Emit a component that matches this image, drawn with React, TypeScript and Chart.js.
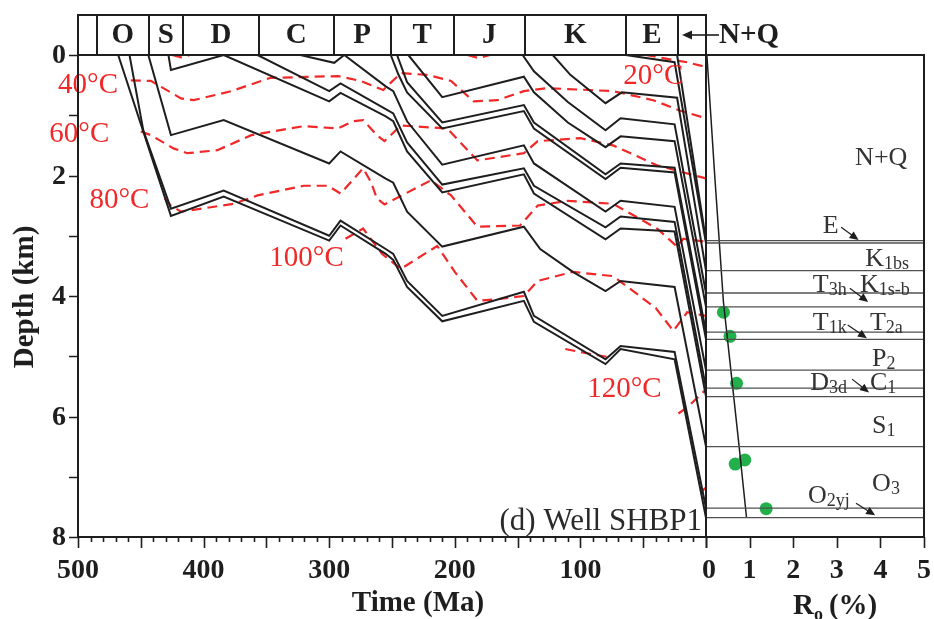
import React, { useEffect, useRef } from 'react';
import { Chart, registerables } from 'chart.js';

Chart.register(...registerables);

const W = 934;
const H = 619;
const SERIF = '"Liberation Serif", "Times New Roman", Times, serif';
const INK = '#1e1e1e';
const RED = '#f02828';
const GREEN = '#22b04b';
const RULE = '#505050';

// Geological periods along the top of the burial plot (boundaries in Ma)
const periodLabels = ['', 'O', 'S', 'D', 'C', 'P', 'T', 'J', 'K', 'E', ''];
const periodEdges = [500, 485, 443.6, 416.5, 356, 296.5, 251, 201, 144, 64, 22, 0];

const timeTicks = [500, 400, 300, 200, 100];
const depthTicks = [0, 2, 4, 6, 8];
const roTicks = [0, 1, 2, 3, 4, 5];

type Row = [number, number] | null;

// Burial paths of the horizons: [age (Ma), depth (km)]
const hzO2yj: Row[] = [[468, 0], [426, 2.67], [384, 2.35], [300, 3.08], [291, 2.83], [255, 3.3], [249, 3.4], [238, 3.85], [210, 4.42], [145, 4.08], [137, 4.43], [80, 5.13], [68, 4.88], [25, 5.05], [0, 7.68]];
const hzO3: Row[] = [[459, 0], [448, 1.25], [426, 2.55], [384, 2.25], [300, 3.0], [291, 2.75], [255, 3.22], [249, 3.3], [238, 3.75], [210, 4.33], [145, 3.93], [137, 4.33], [80, 5.05], [68, 4.83], [25, 4.93], [0, 7.52]];
const hzS1: Row[] = [[444, 0], [426, 1.33], [384, 1.08], [300, 1.8], [291, 1.6], [255, 2.05], [249, 2.12], [238, 2.6], [210, 3.18], [145, 2.85], [132, 3.22], [106, 3.6], [80, 3.92], [68, 3.75], [25, 3.85], [0, 6.5]];
const hzD3d: Row[] = [[428, 0], [426, 0.25], [384, 0], [300, 0.77], [291, 0.63], [255, 1.02], [249, 1.1], [238, 1.6], [210, 2.28], [145, 1.98], [137, 2.3], [80, 3.06], [68, 2.88], [25, 2.93], [0, 5.67]];
const hzC1: Row[] = [[357, 0], [300, 0.6], [291, 0.47], [255, 0.9], [249, 0.97], [238, 1.45], [210, 2.15], [145, 1.88], [137, 2.17], [80, 2.86], [68, 2.68], [25, 2.77], [0, 5.53]];
const hzP2: Row[] = [[323, 0], [296, 0.13], [288, 0], [255, 0.52], [249, 0.6], [238, 1.1], [210, 1.82], [145, 1.5], [137, 1.8], [80, 2.6], [68, 2.42], [25, 2.52], [0, 5.23]];
const hzT1k: Row[] = [[251, 0], [245, 0.32], [238, 0.62], [210, 1.22], [145, 0.93], [137, 1.22], [80, 2.06], [68, 1.87], [25, 1.95], [0, 4.72]];
const hzT2a: Row[] = [[246, 0], [238, 0.45], [210, 1.12], [145, 0.83], [137, 1.12], [80, 1.98], [68, 1.8], [25, 1.87], [0, 4.6]];
const hzT3h: Row[] = [[237, 0], [210, 0.7], [145, 0.36], [137, 0.62], [110, 1.12], [80, 1.53], [68, 1.35], [25, 1.43], [0, 4.18]];
const hzK1s: Row[] = [[146, 0], [137, 0.27], [110, 0.78], [80, 1.25], [68, 1.05], [25, 1.15], [0, 3.95]];
const hzK1bs: Row[] = [[122, 0], [108, 0.33], [80, 0.8], [67, 0.62], [23, 0.71], [0, 3.58]];
const hzEbase: Row[] = [[64, 0], [25, 0.12], [0, 3.12]];
const hzNQbase: Row[] = [[23, 0], [0, 3.08]];

// Isotherms: [age (Ma), depth (km)]; null leaves a gap in the dashed line
const iso20: Row[] = [[425, 0], [418, 0.04], [411, 0], null, [190, 0], [181, 0.05], [172, 0], null, [48, 0], [32, 0.06], [15, 0.12], [0, 0.2]];
const iso40: Row[] = [[458, 0.42], [442, 0.43], [418, 0.72], [408, 0.75], [378, 0.6], [347, 0.38], [293, 0.35], [275, 0.43], [257, 0.58], [243, 0.3], [222, 0.33], [203, 0.43], [185, 0.77], [166, 0.75], [145, 0.6], [126, 0.55], [74, 0.6], [42, 0.75], [21, 0.92], [0, 1.05]];
const iso60: Row[] = [[450, 1.27], [442, 1.33], [424, 1.55], [413, 1.63], [389, 1.58], [362, 1.33], [320, 1.18], [293, 1.22], [281, 1.1], [273, 1.08], [262, 1.33], [256, 1.43], [243, 1.17], [206, 1.22], [182, 1.75], [145, 1.63], [134, 1.43], [100, 1.38], [74, 1.5], [39, 1.83], [0, 2.05]];
const iso80: Row[] = [[431, 2.38], [426, 2.5], [418, 2.6], [376, 2.47], [357, 2.33], [320, 2.17], [301, 2.17], [291, 2.3], [273, 1.88], [267, 2.1], [262, 2.38], [256, 2.48], [219, 2.08], [203, 2.33], [182, 2.85], [148, 2.83], [134, 2.5], [110, 2.42], [74, 2.47], [39, 2.88], [23, 3.18], [18, 3.05], [0, 3.1]];
const iso100: Row[] = [[287, 3.05], [273, 2.88], [258, 3.3], [243, 3.55], [214, 3.17], [200, 3.6], [182, 4.08], [165, 4.05], [145, 4.0], [134, 3.75], [106, 3.6], [74, 3.67], [40, 4.2], [26, 4.58], [15, 4.27], [0, 4.33]];
const iso120: Row[] = [[112, 4.88], [95, 4.95], [76, 5.02], null, [22, 5.95], [15, 5.85], [0, 5.55]];
const iso140: Row[] = [[4, 7.25], [0, 7.18]];
const isoTemps = [20, 40, 60, 80, 100, 120];

// Vitrinite reflectance: [Ro (%), depth (km)]
const roModel: Row[] = [[0.02, 0], [0.2, 2], [0.4, 4.1], [0.57, 5.23], [0.76, 6.5], [0.93, 7.68]];
const roMeasured: Row[] = [[0.4, 4.27], [0.55, 4.67], [0.7, 5.45], [0.67, 6.79], [0.89, 6.72], [1.38, 7.53]];
// Present-day formation boundaries (km)
const formationTops = [3.08, 3.12, 3.58, 3.95, 4.18, 4.6, 4.72, 5.23, 5.53, 5.67, 6.5, 7.52, 7.68];

const pts = (rows: Row[]) => rows.map((r) => (r ? { x: r[0], y: r[1] } : { x: null as any, y: null as any }));

function label(ctx: CanvasRenderingContext2D, s: string, x: number, y: number, font: string, color: string,
  align: CanvasTextAlign = 'center', baseline: CanvasTextBaseline = 'middle') {
  ctx.font = font;
  ctx.fillStyle = color;
  ctx.textAlign = align;
  ctx.textBaseline = baseline;
  ctx.fillText(s, x, y);
}

// Text with a smaller, slightly lowered suffix (K + 1bs, T + 3h ...)
function richText(ctx: CanvasRenderingContext2D, parts: [string, string][], x: number, y: number, size: number, color: string) {
  let cx = x;
  ctx.fillStyle = color;
  ctx.textAlign = 'left';
  ctx.textBaseline = 'alphabetic';
  for (const [main, sub] of parts) {
    ctx.font = `${size}px ${SERIF}`;
    ctx.fillText(main, cx, y);
    cx += ctx.measureText(main).width;
    if (sub) {
      ctx.font = `${Math.round(size * 0.7)}px ${SERIF}`;
      ctx.fillText(sub, cx, y + 3);
      cx += ctx.measureText(sub).width;
    }
  }
  return cx;
}

function arrow(ctx: CanvasRenderingContext2D, x1: number, y1: number, x2: number, y2: number, head = 9, width = 1.2) {
  const a = Math.atan2(y2 - y1, x2 - x1);
  const c = Math.cos(a);
  const s = Math.sin(a);
  ctx.strokeStyle = INK;
  ctx.fillStyle = INK;
  ctx.lineWidth = width;
  ctx.beginPath();
  ctx.moveTo(x1, y1);
  ctx.lineTo(x2 - c * head * 0.8, y2 - s * head * 0.8);
  ctx.stroke();
  ctx.beginPath();
  ctx.moveTo(x2, y2);
  ctx.lineTo(x2 - head * c + head * 0.45 * s, y2 - head * s - head * 0.45 * c);
  ctx.lineTo(x2 - head * c - head * 0.45 * s, y2 - head * s + head * 0.45 * c);
  ctx.closePath();
  ctx.fill();
}

const burialDecor = {
  id: 'burialDecor',
  afterDatasetsDraw(chart: any) {
    const { ctx, chartArea: a, scales } = chart;
    const xs = scales.x;
    const ys = scales.y;
    ctx.save();

    // isotherm labels
    const spots: [number, number][] = [[42, 0.36], [492, 0.5], [499, 1.31], [467, 2.42], [318, 3.37], [65, 5.55]];
    isoTemps.forEach((t, i) => {
      const [ma, d] = spots[i];
      label(ctx, `${t}°C`, xs.getPixelForValue(ma), ys.getPixelForValue(d), `29px ${SERIF}`, RED);
    });

    // frame
    ctx.strokeStyle = INK;
    ctx.lineWidth = 2;
    ctx.strokeRect(a.left, a.top, a.right - a.left, a.bottom - a.top);

    // period strip
    const sTop = a.top - 40;
    const x0 = xs.getPixelForValue(periodEdges[0]);
    const x1 = xs.getPixelForValue(periodEdges[periodEdges.length - 1]);
    ctx.strokeRect(x0, sTop, x1 - x0, a.top - sTop);
    ctx.beginPath();
    for (let i = 1; i < periodEdges.length - 1; i++) {
      const px = Math.round(xs.getPixelForValue(periodEdges[i]));
      ctx.moveTo(px, sTop);
      ctx.lineTo(px, a.top);
    }
    ctx.stroke();
    periodLabels.forEach((p, i) => {
      if (!p) return;
      const mid = (xs.getPixelForValue(periodEdges[i]) + xs.getPixelForValue(periodEdges[i + 1])) / 2;
      label(ctx, p, mid, sTop + 21, `bold 29px ${SERIF}`, INK);
    });
    const nqRight = xs.getPixelForValue(0);
    arrow(ctx, nqRight + 13, sTop + 20, nqRight - 24, sTop + 20, 10, 1.6);
    label(ctx, 'N+Q', nqRight + 13, sTop + 21, `bold 29px ${SERIF}`, INK, 'left');

    // time ticks: long every 50 Ma, short every 10 Ma
    ctx.lineWidth = 1.6;
    ctx.beginPath();
    for (let t = 0; t <= 500; t += 10) {
      const px = Math.round(xs.getPixelForValue(t)) + 0.5;
      const len = t % 50 === 0 ? 11 : 5;
      ctx.moveTo(px, a.bottom);
      ctx.lineTo(px, a.bottom + len);
    }
    for (let d = 0; d <= 8; d += 1) {
      const py = Math.round(ys.getPixelForValue(d)) + 0.5;
      ctx.moveTo(a.left, py);
      ctx.lineTo(a.left - 9, py);
    }
    ctx.stroke();

    timeTicks.forEach((t) => label(ctx, String(t), xs.getPixelForValue(t), a.bottom + 34, `bold 28px ${SERIF}`, INK));
    depthTicks.forEach((d) => label(ctx, String(d), a.left - 12, ys.getPixelForValue(d) + 1, `bold 28px ${SERIF}`, INK, 'right'));

    label(ctx, 'Time (Ma)', (a.left + a.right) / 2 + 26, a.bottom + 67, `bold 29px ${SERIF}`, INK);
    ctx.save();
    ctx.translate(26, (a.top + a.bottom) / 2 + 1);
    ctx.rotate(-Math.PI / 2);
    label(ctx, 'Depth (km)', 0, 0, `bold 29px ${SERIF}`, INK);
    ctx.restore();

    label(ctx, '(d) Well SHBP1', a.right - 4, a.bottom - 7, `31px ${SERIF}`, '#2a2a2a', 'right', 'alphabetic');
    ctx.restore();
  },
};

const roDecor = {
  id: 'roDecor',
  afterDatasetsDraw(chart: any) {
    const { ctx, chartArea: a, scales } = chart;
    const xs = scales.x;
    const ys = scales.y;
    const P = (ro: number, d: number): [number, number] => [xs.getPixelForValue(ro), ys.getPixelForValue(d)];
    ctx.save();

    ctx.strokeStyle = INK;
    ctx.lineWidth = 2;
    ctx.strokeRect(a.left, a.top, a.right - a.left, a.bottom - a.top);

    ctx.lineWidth = 1.6;
    ctx.beginPath();
    roTicks.forEach((r) => {
      const px = Math.round(xs.getPixelForValue(r)) + 0.5;
      ctx.moveTo(px, a.bottom);
      ctx.lineTo(px, a.bottom + 11);
    });
    ctx.stroke();
    roTicks.forEach((r) => label(ctx, String(r), xs.getPixelForValue(r) + (r === 0 ? 3 : 0), a.bottom + 34, `bold 28px ${SERIF}`, INK));

    // axis title R_o (%)
    ctx.textBaseline = 'alphabetic';
    const tx = (a.left + a.right) / 2 - 22;
    const ty = a.bottom + 77;
    ctx.font = `bold 29px ${SERIF}`;
    ctx.fillStyle = INK;
    ctx.textAlign = 'left';
    ctx.fillText('R', tx, ty);
    let cx = tx + ctx.measureText('R').width;
    ctx.font = `bold 18px ${SERIF}`;
    ctx.fillText('o', cx, ty + 6);
    cx += ctx.measureText('o').width + 6;
    ctx.font = `bold 29px ${SERIF}`;
    ctx.fillText('(%)', cx, ty);

    // formation names
    const fs = 26;
    const col = '#333333';
    let p = P(3.42, 1.83);
    richText(ctx, [['N+Q', '']], p[0], p[1], fs, col);
    p = P(2.68, 2.95);
    richText(ctx, [['E', '']], p[0], p[1], fs, col);
    arrow(ctx, ...P(3.1, 2.86), ...P(3.5, 3.07));
    p = P(3.65, 3.5);
    richText(ctx, [['K', '1bs']], p[0], p[1], fs, col);
    p = P(2.45, 3.93);
    richText(ctx, [['T', '3h']], p[0], p[1], fs, col);
    arrow(ctx, ...P(3.3, 3.87), ...P(3.72, 4.1));
    p = P(3.53, 3.93);
    richText(ctx, [['K', '1s-b']], p[0], p[1], fs, col);
    p = P(2.45, 4.56);
    richText(ctx, [['T', '1k']], p[0], p[1], fs, col);
    arrow(ctx, ...P(3.25, 4.48), ...P(3.69, 4.7));
    p = P(3.76, 4.56);
    richText(ctx, [['T', '2a']], p[0], p[1], fs, col);
    p = P(3.81, 5.16);
    richText(ctx, [['P', '2']], p[0], p[1], fs, col);
    p = P(2.39, 5.56);
    richText(ctx, [['D', '3d']], p[0], p[1], fs, col);
    arrow(ctx, ...P(3.35, 5.38), ...P(3.74, 5.6));
    p = P(3.76, 5.56);
    richText(ctx, [['C', '1']], p[0], p[1], fs, col);
    p = P(3.81, 6.27);
    richText(ctx, [['S', '1']], p[0], p[1], fs, col);
    p = P(3.81, 7.24);
    richText(ctx, [['O', '3']], p[0], p[1], fs, col);
    p = P(2.34, 7.44);
    richText(ctx, [['O', '2yj']], p[0], p[1], fs, col);
    arrow(ctx, ...P(3.44, 7.44), ...P(3.88, 7.64));

    ctx.restore();
  },
};

function line(rows: Row[], color: string, width: number, dash: number[] = []) {
  return {
    data: pts(rows),
    showLine: true,
    borderColor: color,
    borderWidth: width,
    borderDash: dash,
    pointRadius: 0,
    tension: 0,
    fill: false,
    spanGaps: false,
  };
}

export default function App() {
  const leftRef = useRef<HTMLCanvasElement>(null);
  const rightRef = useRef<HTMLCanvasElement>(null);

  useEffect(() => {
    const horizons = [hzO2yj, hzO3, hzS1, hzD3d, hzC1, hzP2, hzT1k, hzT2a, hzT3h, hzK1s, hzK1bs, hzEbase, hzNQbase];
    const isotherms = [iso20, iso40, iso60, iso80, iso100, iso120, iso140];
    const common = {
      responsive: false,
      animation: false as const,
      devicePixelRatio: 1,
      events: [] as any[],
      plugins: { legend: { display: false }, tooltip: { enabled: false } },
    };

    const burial = new Chart(leftRef.current as HTMLCanvasElement, {
      type: 'scatter',
      data: {
        datasets: [
          ...horizons.map((h) => line(h, INK, 2)),
          ...isotherms.map((t) => line(t, RED, 2.2, [10, 6])),
        ] as any,
      },
      options: {
        ...common,
        layout: { padding: { left: 78, right: W - 706, top: 55, bottom: H - 537 } },
        scales: {
          x: { type: 'linear', display: false, min: 0, max: 500, reverse: true },
          y: { type: 'linear', display: false, min: 0, max: 8, reverse: true },
        },
      } as any,
      plugins: [burialDecor],
    });

    const ro = new Chart(rightRef.current as HTMLCanvasElement, {
      type: 'scatter',
      data: {
        datasets: [
          ...formationTops.map((d) => line([[0, d], [5, d]], RULE, 1.3)),
          line(roModel, INK, 1.5),
          {
            data: pts(roMeasured),
            showLine: false,
            pointRadius: 6.5,
            pointBackgroundColor: GREEN,
            pointBorderWidth: 0,
          },
        ] as any,
      },
      options: {
        ...common,
        layout: { padding: { left: 706, right: W - 924, top: 55, bottom: H - 537 } },
        scales: {
          x: { type: 'linear', display: false, min: 0, max: 5 },
          y: { type: 'linear', display: false, min: 0, max: 8, reverse: true },
        },
      } as any,
      plugins: [roDecor],
    });

    return () => {
      burial.destroy();
      ro.destroy();
    };
  }, []);

  const canvasStyle: React.CSSProperties = { position: 'absolute', left: 0, top: 0 };
  return (
    <div style={{ position: 'absolute', left: 0, top: 0, width: W, height: H, background: '#ffffff' }}>
      <canvas ref={leftRef} width={W} height={H} style={canvasStyle} />
      <canvas ref={rightRef} width={W} height={H} style={canvasStyle} />
    </div>
  );
}
